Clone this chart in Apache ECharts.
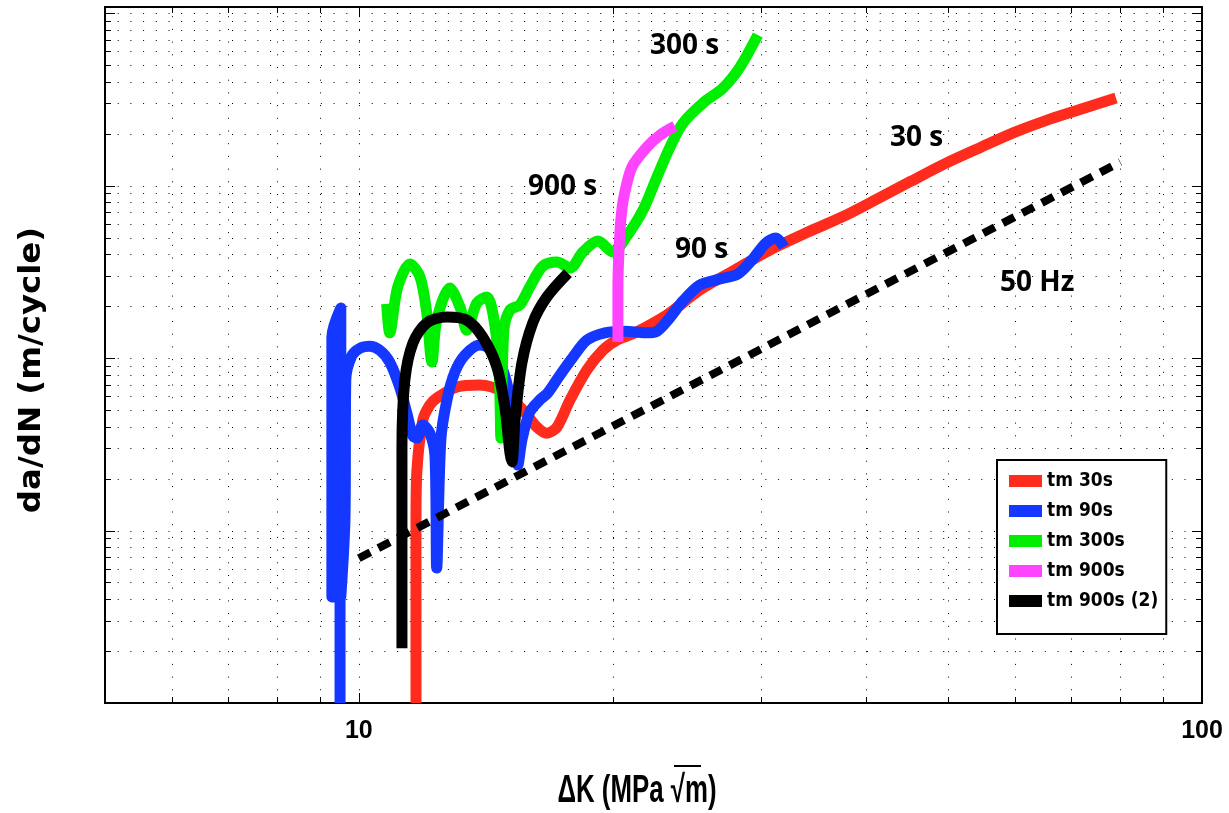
<!DOCTYPE html>
<html><head><meta charset="utf-8">
<script src="https://cdn.jsdelivr.net/npm/echarts/dist/echarts.min.js"></script>
<style>html,body{margin:0;padding:0;background:#fff}#c{width:1229px;height:813px}</style>
</head><body><div id="c"></div>
<script>
// ---- data (ΔK in MPa√m, da/dN in m/cycle) ----
const tm30_dK   = [11.69, 11.69, 11.72, 11.91, 12.14, 12.37, 13.07, 13.91, 14.82, 15.65, 16.26, 16.71, 17.18, 17.80, 18.64, 19.47, 20.23, 21.25, 23.20, 25.38, 27.92, 30.72, 34.09, 37.41, 41.16, 45.17, 49.72, 54.69, 60.00, 66.01, 72.44, 79.07];
const tm30_rate = [1.0e-9, 1.15e-8, 2.24e-8, 4.37e-8, 5.34e-8, 5.86e-8, 6.79e-8, 6.97e-8, 6.35e-8, 5.00e-8, 3.98e-8, 3.67e-8, 3.98e-8, 5.71e-8, 8.52e-8, 1.11e-7, 1.27e-7, 1.40e-7, 1.78e-7, 2.48e-7, 3.24e-7, 4.23e-7, 5.38e-7, 6.57e-7, 8.35e-7, 1.06e-6, 1.35e-6, 1.67e-6, 2.04e-6, 2.43e-6, 2.81e-6, 3.22e-6];

const tm90_dK   = [9.50, 9.50, 9.29, 9.29, 9.52, 9.52, 9.63, 9.65, 9.81, 10.03, 10.30, 10.59, 10.88, 11.18, 11.40, 11.59, 11.72, 11.91, 12.14, 12.31, 12.37, 12.51, 12.72, 13.00, 13.36, 13.91, 14.42, 14.82, 15.11, 15.32, 15.44, 15.61, 15.95, 16.39, 16.75, 17.32, 17.94, 18.64, 19.58, 20.68, 21.84, 22.57, 23.26, 24.23, 25.38, 26.80, 28.15, 29.26, 30.39, 31.24, 31.93];
const tm90_rate = [1.0e-9, 4.12e-9, 4.12e-9, 1.32e-7, 1.95e-7, 4.12e-9, 1.20e-8, 7.46e-8, 1.03e-7, 1.14e-7, 1.17e-7, 1.11e-7, 9.48e-8, 6.79e-8, 4.80e-8, 3.53e-8, 3.44e-8, 4.09e-8, 3.67e-8, 2.74e-8, 6.06e-9, 3.35e-8, 5.71e-8, 8.30e-8, 1.04e-7, 1.19e-7, 1.11e-7, 8.52e-8, 5.94e-8, 3.82e-8, 2.40e-8, 3.35e-8, 4.86e-8, 5.71e-8, 6.27e-8, 7.97e-8, 1.01e-7, 1.27e-7, 1.40e-7, 1.43e-7, 1.40e-7, 1.43e-7, 1.66e-7, 2.14e-7, 2.65e-7, 2.87e-7, 3.07e-7, 3.70e-7, 4.64e-7, 4.96e-7, 4.40e-7];

const tm300_dK   = [10.79, 10.88, 11.12, 11.50, 11.82, 12.04, 12.21, 12.37, 12.82, 13.18, 13.43, 13.80, 14.18, 14.42, 14.66, 14.74, 14.86, 15.11, 15.52, 15.95, 16.53, 17.18, 17.80, 18.44, 19.21, 20.01, 20.79, 21.73, 22.57, 23.39, 24.23, 25.59, 27.02, 28.31, 29.73];
const tm300_rate = [2.06e-7, 1.40e-7, 2.58e-7, 3.51e-7, 2.95e-7, 1.82e-7, 9.48e-8, 1.66e-7, 2.55e-7, 1.98e-7, 1.45e-7, 2.08e-7, 2.26e-7, 1.82e-7, 9.35e-8, 3.44e-8, 1.45e-7, 1.90e-7, 2.03e-7, 2.58e-7, 3.41e-7, 3.60e-7, 3.33e-7, 4.12e-7, 4.77e-7, 4.12e-7, 5.10e-7, 7.21e-7, 1.12e-6, 1.67e-6, 2.30e-6, 3.01e-6, 3.67e-6, 4.86e-6, 7.46e-6];

const tm900_dK   = [20.29, 20.29, 20.35, 20.45, 20.62, 21.08, 21.96, 22.76, 23.71];
const tm900_rate = [1.24e-7, 2.58e-7, 4.20e-7, 6.30e-7, 8.58e-7, 1.28e-6, 1.67e-6, 1.96e-6, 2.21e-6];

const tm900b_dK   = [11.25, 11.25, 11.34, 11.59, 12.04, 12.72, 13.43, 14.03, 14.58, 14.90, 15.11, 15.19, 15.32, 15.61, 16.08, 16.71, 17.70];
const tm900b_rate = [2.08e-9, 3.05e-8, 7.46e-8, 1.22e-7, 1.60e-7, 1.73e-7, 1.66e-7, 1.32e-7, 8.87e-8, 5.20e-8, 2.81e-8, 2.50e-8, 4.37e-8, 9.35e-8, 1.60e-7, 2.26e-7, 3.11e-7];

const hz50_dK   = [10, 80];
const hz50_rate = [6.9e-9, 1.37e-6];

const seriesNames = ['tm 30s', 'tm 90s', 'tm 300s', 'tm 900s', 'tm 900s (2)'];
const xTickLabels = [10, 100];
const annotations = ['300 s', '30 s', '900 s', '90 s', '50 Hz'];

// ---- axis ranges & grid values ----
const X_MIN = 5, X_MAX = 100, Y_MIN = 1e-9, Y_MAX = 1.085e-5;
const xMajor = [10];
const xMinor = [6, 7, 8, 9, 20, 30, 40, 50, 60, 70, 80, 90];
const yMajor = [1e-8, 1e-7, 1e-6, 1e-5];
const yMinor = [];
[1e-9, 1e-8, 1e-7, 1e-6].forEach(d => { for (let k = 2; k <= 9; k++) yMinor.push(k * d); });

const zip = (a, b) => a.map((v, i) => [v, b[i]]);

const gridData = [];
xMajor.forEach(v => gridData.push([v, Y_MIN, 0, 1]));
xMinor.forEach(v => gridData.push([v, Y_MIN, 0, 0]));
yMajor.forEach(v => gridData.push([X_MIN, v, 1, 1]));
yMinor.forEach(v => gridData.push([X_MIN, v, 1, 0]));

function renderGrid(params, api) {
  const cs = params.coordSys;
  const kind = api.value(2), major = api.value(3);
  const tl = major ? 10 : 6;
  const dot = { stroke: '#000', lineWidth: 1, lineDash: [1, 11.7] };
  const solid = { stroke: '#000', lineWidth: 1 };
  if (kind === 0) {
    const px = Math.round(api.coord([api.value(0), Y_MIN])[0]) + 0.5;
    const y0 = cs.y, y1 = cs.y + cs.height;
    return { type: 'group', children: [
      { type: 'line', shape: { x1: px, y1: y1, x2: px, y2: y0 }, style: dot },
      { type: 'line', shape: { x1: px, y1: y1, x2: px, y2: y1 - tl }, style: solid },
      { type: 'line', shape: { x1: px, y1: y0, x2: px, y2: y0 + tl }, style: solid }
    ]};
  } else {
    const py = Math.round(api.coord([X_MIN, api.value(1)])[1]) + 0.5;
    const x0 = cs.x, x1 = cs.x + cs.width;
    return { type: 'group', children: [
      { type: 'line', shape: { x1: x0, y1: py, x2: x1, y2: py }, style: dot },
      { type: 'line', shape: { x1: x0, y1: py, x2: x0 + tl, y2: py }, style: solid },
      { type: 'line', shape: { x1: x1, y1: py, x2: x1 - tl, y2: py }, style: solid }
    ]};
  }
}

const colors = ['#ff2b1c', '#1438ff', '#00ee00', '#ff44ff', '#000000'];
const curves = [zip(tm30_dK, tm30_rate), zip(tm90_dK, tm90_rate), zip(tm300_dK, tm300_rate), zip(tm900_dK, tm900_rate), zip(tm900b_dK, tm900b_rate)];

const lineSeries = curves.map((d, i) => ({
  name: seriesNames[i], type: 'line', data: d, showSymbol: false, symbol: 'none',
  smooth: 0.3, silent: true, z: 3 + i,
  lineStyle: { color: colors[i], width: 11, cap: 'butt', join: 'round' },
  itemStyle: { color: colors[i] }
}));

const annFont = 'bold 28px "Open Sans"';
const annPos = [[650, 46], [890, 138], [528, 187], [675, 250], [1000, 283]];

const chart = echarts.init(document.getElementById('c'), null, { renderer: 'canvas' });
chart.setOption({
  animation: false,
  backgroundColor: '#fff',
  grid: { left: 105, top: 7, width: 1097, height: 696, show: true, borderColor: '#000', borderWidth: 2, backgroundColor: 'transparent' },
  xAxis: {
    type: 'log', logBase: 10, min: X_MIN, max: X_MAX,
    axisLine: { show: true, lineStyle: { color: '#000', width: 2 } },
    axisTick: { show: false }, splitLine: { show: false },
    axisLabel: {
      margin: 16, color: '#000', fontFamily: '"Liberation Sans"', fontWeight: 'bold', fontSize: 25,
      formatter: v => { const hit = xTickLabels.find(t => Math.abs(t - v) / t < 1e-6); return hit ? String(hit) : ''; }
    }
  },
  yAxis: {
    type: 'log', logBase: 10, min: Y_MIN, max: Y_MAX,
    axisLine: { show: true, lineStyle: { color: '#000', width: 2 } },
    axisTick: { show: false }, splitLine: { show: false }, axisLabel: { show: false }
  },
  legend: {
    show: true, orient: 'vertical', left: 997, top: 460, data: seriesNames, icon: 'rect',
    itemWidth: 33, itemHeight: 12, itemGap: 8, padding: [10, 8, 22, 12],
    borderColor: '#000', borderWidth: 2, backgroundColor: '#fff', selectedMode: false,
    textStyle: { fontFamily: '"DejaVu Sans Condensed"', fontWeight: 'bold', fontSize: 19, color: '#000', lineHeight: 22 }
  },
  graphic: [
    ...annotations.map((t, i) => ({ type: 'text', x: annPos[i][0], y: annPos[i][1], silent: true,
      style: { text: t, font: annFont, fill: '#000', textVerticalAlign: 'middle', verticalAlign: 'middle' } })),
    { type: 'text', x: 32, y: 370, rotation: Math.PI / 2, scaleX: 1.08, silent: true,
      style: { text: 'da/dN (m/cycle)', font: 'bold 30px "DejaVu Sans"', fill: '#000', textAlign: 'center', align: 'center', textVerticalAlign: 'middle', verticalAlign: 'middle' } },
    { type: 'text', x: 637, y: 792, scaleX: 0.68, silent: true,
      style: { text: 'ΔK (MPa √m)', font: 'bold 38px "Liberation Sans"', fill: '#000', textAlign: 'center', align: 'center', textVerticalAlign: 'middle', verticalAlign: 'middle' } },
    { type: 'line', silent: true, shape: { x1: 674, y1: 766, x2: 701, y2: 766 }, style: { stroke: '#000', lineWidth: 2 } }
  ],
  series: [
    { name: 'grid', type: 'custom', renderItem: renderGrid, data: gridData, encode: { x: 0, y: 1 }, silent: true, z: 1 },
    ...lineSeries,
    { name: '50 Hz', type: 'line', data: zip(hz50_dK, hz50_rate), showSymbol: false, symbol: 'none', silent: true, z: 9,
      lineStyle: { color: '#000', width: 8, type: [13, 9], cap: 'butt' } }
  ]
});
</script></body></html>
